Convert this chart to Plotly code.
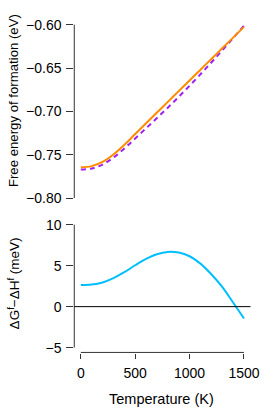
import plotly.graph_objects as go

# ---- data ----
temperature = [0, 100, 200, 300, 400, 500, 600, 700, 800, 900, 1000, 1100, 1200, 1300, 1400, 1500]
free_energy_G = [-0.7644, -0.7631, -0.7583, -0.7497, -0.7386, -0.7261, -0.7137, -0.7013,
                 -0.6890, -0.6766, -0.6643, -0.6519, -0.6396, -0.6272, -0.6149, -0.6025]
enthalpy_H = [-0.7671, -0.7658, -0.7613, -0.7532, -0.7428, -0.7312, -0.7195, -0.7077,
              -0.6957, -0.6832, -0.6705, -0.6572, -0.6436, -0.6296, -0.6154, -0.6011]
diff_meV = [2.65, 2.70, 2.95, 3.48, 4.20, 5.05, 5.82, 6.40, 6.68, 6.60, 6.15, 5.25, 3.95, 2.40, 0.50, -1.45]

top_ticks = [-0.80, -0.75, -0.70, -0.65, -0.60]
bottom_ticks = [-5, 0, 5, 10]
x_ticks = [0, 500, 1000, 1500]

W, H = 274, 411
FONT = "Liberation Sans, Arial, sans-serif"
AX = "#333333"

def px_x(p):
    return p / W

def px_y(p):
    return 1 - p / H

fig = go.Figure()
fig.add_trace(go.Scatter(x=temperature, y=enthalpy_H, mode="lines", line_shape="spline",
                         line=dict(color="#A020F0", width=2, dash="5px,4px"),
                         xaxis="x", yaxis="y", showlegend=False))
fig.add_trace(go.Scatter(x=temperature, y=free_energy_G, mode="lines", line_shape="spline",
                         line=dict(color="#FF8C00", width=2),
                         xaxis="x", yaxis="y", showlegend=False))
fig.add_trace(go.Scatter(x=temperature, y=diff_meV, mode="lines", line_shape="spline",
                         line=dict(color="#00BFFF", width=2),
                         xaxis="x2", yaxis="y2", showlegend=False))

xdom = [px_x(76.8), px_x(259.0)]
xr = [-60, 1560]
tickfont = dict(family=FONT, size=14, color="black")

fig.update_layout(
    width=W, height=H,
    margin=dict(l=0, r=0, t=0, b=0),
    paper_bgcolor="white", plot_bgcolor="white",
    font=dict(family=FONT, size=14, color="black"),
    xaxis=dict(domain=xdom, range=xr, anchor="y", visible=False),
    yaxis=dict(domain=[px_y(205.04), px_y(14.96)], range=[-0.808, -0.592], anchor="x",
               tickvals=top_ticks, tickformat=".2f", ticks="outside", ticklen=7,
               tickcolor=AX, tickfont=tickfont, showline=False, showgrid=False,
               zeroline=False, ticklabelstandoff=2),
    xaxis2=dict(domain=xdom, range=xr, anchor="y2", tickvals=x_ticks, ticks="outside",
                ticklen=5, tickcolor=AX, tickfont=tickfont, showline=False, showgrid=False,
                zeroline=False, ticklabelstandoff=3),
    yaxis2=dict(domain=[px_y(354.7), px_y(220.0)], range=[-5.6, 10.6], anchor="x2",
                tickvals=bottom_ticks, ticks="outside", ticklen=7, tickcolor=AX,
                tickfont=tickfont, showline=False, showgrid=False, zeroline=False,
                ticklabelstandoff=2),
)

shapes = [
    dict(type="line", xref="paper", yref="y", x0=px_x(76.8), x1=px_x(76.8), y0=-0.80, y1=-0.60,
         line=dict(color=AX, width=1)),
    dict(type="line", xref="paper", yref="y2", x0=px_x(76.8), x1=px_x(76.8), y0=-5, y1=10,
         line=dict(color=AX, width=1)),
    dict(type="line", xref="x2", yref="paper", x0=0, x1=1500, y0=px_y(354.6), y1=px_y(354.6),
         line=dict(color=AX, width=1)),
    dict(type="line", xref="paper", yref="y2", x0=px_x(76.8), x1=px_x(259.0), y0=0, y1=0,
         line=dict(color="black", width=1)),
]
fig.update_layout(shapes=shapes)

annotations = [
    dict(text="Free energy of formation (eV)", x=px_x(14), y=px_y(99), xref="paper", yref="paper",
         textangle=-90, showarrow=False, xanchor="center", yanchor="middle",
         font=dict(size=13.2)),
    dict(text="ΔG<sup>f</sup>−ΔH<sup>f</sup> (meV)", x=px_x(14), y=px_y(285), xref="paper",
         yref="paper", textangle=-90, showarrow=False, xanchor="center", yanchor="middle",
         font=dict(size=13.5)),
    dict(text="Temperature (K)", x=px_x(167.5), y=px_y(401.5), xref="paper", yref="paper",
         showarrow=False, xanchor="center", yanchor="middle", font=dict(size=14.5)),
]
fig.update_layout(annotations=annotations)

fig.write_html("out.html", config={"displayModeBar": False},
               post_script="document.body.style.margin='0';document.body.style.padding='0';"
                           "document.documentElement.style.overflow='hidden';")
